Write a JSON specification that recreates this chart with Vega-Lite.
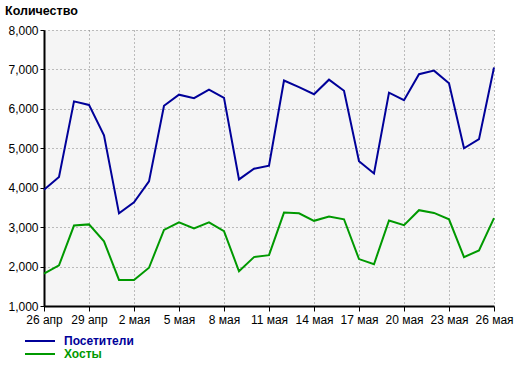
{
  "$schema": "https://vega.github.io/schema/vega-lite/v6.json",
  "width": 450,
  "height": 276,
  "autosize": {"type": "none"},
  "padding": {"left": 44, "top": 30, "right": 26, "bottom": 60},
  "background": "white",
  "config": {"view": {"fill": "#f5f5f5", "stroke": null}, "font": "Liberation Sans"},
  "title": {"text": "Количество", "anchor": "start", "frame": "group", "dx": -39, "fontSize": 12.5, "fontWeight": "bold", "color": "black", "offset": 7},
  "data": {"values": [
    {"date": "2013-04-26", "series": "Посетители", "value": 3950},
    {"date": "2013-04-27", "series": "Посетители", "value": 4270},
    {"date": "2013-04-28", "series": "Посетители", "value": 6190},
    {"date": "2013-04-29", "series": "Посетители", "value": 6100},
    {"date": "2013-04-30", "series": "Посетители", "value": 5330},
    {"date": "2013-05-01", "series": "Посетители", "value": 3350},
    {"date": "2013-05-02", "series": "Посетители", "value": 3630},
    {"date": "2013-05-03", "series": "Посетители", "value": 4160},
    {"date": "2013-05-04", "series": "Посетители", "value": 6080},
    {"date": "2013-05-05", "series": "Посетители", "value": 6360},
    {"date": "2013-05-06", "series": "Посетители", "value": 6270},
    {"date": "2013-05-07", "series": "Посетители", "value": 6490},
    {"date": "2013-05-08", "series": "Посетители", "value": 6280},
    {"date": "2013-05-09", "series": "Посетители", "value": 4210},
    {"date": "2013-05-10", "series": "Посетители", "value": 4480},
    {"date": "2013-05-11", "series": "Посетители", "value": 4560},
    {"date": "2013-05-12", "series": "Посетители", "value": 6720},
    {"date": "2013-05-13", "series": "Посетители", "value": 6550},
    {"date": "2013-05-14", "series": "Посетители", "value": 6370},
    {"date": "2013-05-15", "series": "Посетители", "value": 6740},
    {"date": "2013-05-16", "series": "Посетители", "value": 6460},
    {"date": "2013-05-17", "series": "Посетители", "value": 4670},
    {"date": "2013-05-18", "series": "Посетители", "value": 4360},
    {"date": "2013-05-19", "series": "Посетители", "value": 6410},
    {"date": "2013-05-20", "series": "Посетители", "value": 6220},
    {"date": "2013-05-21", "series": "Посетители", "value": 6880},
    {"date": "2013-05-22", "series": "Посетители", "value": 6970},
    {"date": "2013-05-23", "series": "Посетители", "value": 6650},
    {"date": "2013-05-24", "series": "Посетители", "value": 5000},
    {"date": "2013-05-25", "series": "Посетители", "value": 5230},
    {"date": "2013-05-26", "series": "Посетители", "value": 7050},
    {"date": "2013-04-26", "series": "Хосты", "value": 1820},
    {"date": "2013-04-27", "series": "Хосты", "value": 2030},
    {"date": "2013-04-28", "series": "Хосты", "value": 3040},
    {"date": "2013-04-29", "series": "Хосты", "value": 3070},
    {"date": "2013-04-30", "series": "Хосты", "value": 2640},
    {"date": "2013-05-01", "series": "Хосты", "value": 1660},
    {"date": "2013-05-02", "series": "Хосты", "value": 1660},
    {"date": "2013-05-03", "series": "Хосты", "value": 1970},
    {"date": "2013-05-04", "series": "Хосты", "value": 2930},
    {"date": "2013-05-05", "series": "Хосты", "value": 3120},
    {"date": "2013-05-06", "series": "Хосты", "value": 2970},
    {"date": "2013-05-07", "series": "Хосты", "value": 3120},
    {"date": "2013-05-08", "series": "Хосты", "value": 2900},
    {"date": "2013-05-09", "series": "Хосты", "value": 1880},
    {"date": "2013-05-10", "series": "Хосты", "value": 2240},
    {"date": "2013-05-11", "series": "Хосты", "value": 2290},
    {"date": "2013-05-12", "series": "Хосты", "value": 3370},
    {"date": "2013-05-13", "series": "Хосты", "value": 3350},
    {"date": "2013-05-14", "series": "Хосты", "value": 3160},
    {"date": "2013-05-15", "series": "Хосты", "value": 3270},
    {"date": "2013-05-16", "series": "Хосты", "value": 3200},
    {"date": "2013-05-17", "series": "Хосты", "value": 2190},
    {"date": "2013-05-18", "series": "Хосты", "value": 2060},
    {"date": "2013-05-19", "series": "Хосты", "value": 3170},
    {"date": "2013-05-20", "series": "Хосты", "value": 3050},
    {"date": "2013-05-21", "series": "Хосты", "value": 3430},
    {"date": "2013-05-22", "series": "Хосты", "value": 3360},
    {"date": "2013-05-23", "series": "Хосты", "value": 3200},
    {"date": "2013-05-24", "series": "Хосты", "value": 2240},
    {"date": "2013-05-25", "series": "Хосты", "value": 2410},
    {"date": "2013-05-26", "series": "Хосты", "value": 3230}
  ]},
  "mark": {"type": "line", "strokeWidth": 2},
  "encoding": {
    "x": {
      "field": "date", "type": "ordinal", "sort": null,
      "scale": {"type": "point", "padding": 0},
      "axis": {
        "title": null,
        "values": ["2013-04-26", "2013-04-29", "2013-05-02", "2013-05-05", "2013-05-08", "2013-05-11", "2013-05-14", "2013-05-17", "2013-05-20", "2013-05-23", "2013-05-26"],
        "labelExpr": "toNumber(slice(datum.value, 8)) + (slice(datum.value, 5, 7) == '04' ? ' апр' : ' мая')",
        "labelAngle": 0, "labelFontSize": 12, "labelColor": "black", "labelPadding": 3,
        "domainColor": "black", "domainWidth": 2,
        "tickColor": "black", "tickSize": 5, "tickWidth": 1,
        "grid": true, "gridColor": "#808080", "gridDash": [1, 3], "gridWidth": 1
      }
    },
    "y": {
      "field": "value", "type": "quantitative",
      "scale": {"domain": [1000, 8000], "nice": false, "zero": false},
      "axis": {
        "title": null,
        "values": [1000, 2000, 3000, 4000, 5000, 6000, 7000, 8000],
        "format": ",.0f",
        "labelFontSize": 12, "labelColor": "black", "labelPadding": 2,
        "domainColor": "black", "domainWidth": 2,
        "tickColor": "black", "tickSize": 4, "tickWidth": 1,
        "grid": true, "gridColor": "#808080", "gridDash": [1, 3], "gridWidth": 1
      }
    },
    "color": {
      "field": "series", "type": "nominal",
      "scale": {"domain": ["Посетители", "Хосты"], "range": ["#000099", "#009900"]},
      "legend": {
        "title": null, "orient": "none", "legendX": -10, "legendY": 305,
        "symbolType": "M-5,0H5", "symbolSize": 36, "symbolStrokeWidth": 2,
        "labelFontSize": 12, "labelFontWeight": "bold", "labelOffset": 18,
        "labelColor": {"expr": "datum.value == 'Хосты' ? '#009900' : '#000099'"},
        "rowPadding": 1
      }
    }
  }
}
